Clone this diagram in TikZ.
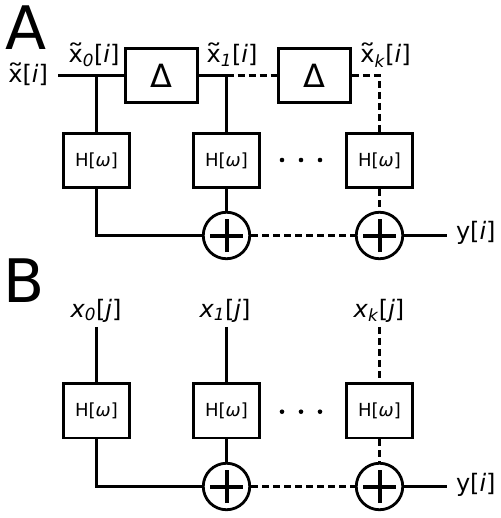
\documentclass[tikz,border=0pt]{standalone}
\usepackage{fontspec}
\usepackage{graphicx}
\setmainfont{DejaVu Sans}
\usetikzlibrary{positioning}

% wide tilde over x
\newcommand{\xtil}{{\ooalign{x\cr\hidewidth\raisebox{0.05em}{\scalebox{1.45}[1]{\char"02DC}}\hidewidth\cr}}}

\begin{document}
\begin{tikzpicture}[
  x=1pt, y=-1pt,
  line width=2.8pt,
  lab/.style={font=\fontsize{24}{28}\selectfont, inner sep=0pt},
  panel/.style={font=\fontsize{60}{64}\selectfont, inner sep=0pt, anchor=base west},
  filt/.style={draw, minimum width=65.5pt, minimum height=54.5pt, inner sep=0pt,
               font=\fontsize{18}{20}\selectfont},
  delay/.style={draw, minimum width=72pt, minimum height=54pt, inner sep=0pt,
                font=\fontsize{32}{34}\selectfont},
  sum/.style={circle, draw, minimum size=46.5pt, inner sep=0pt,
              path picture={\draw[line width=4pt]
                ([xshift=-16.5pt]path picture bounding box.center) -- ([xshift=16.5pt]path picture bounding box.center)
                ([yshift=-16.5pt]path picture bounding box.center) -- ([yshift=16.5pt]path picture bounding box.center);}},
  more/.style={dash pattern=on 7pt off 4pt}
]
\useasboundingbox (0,0) rectangle (500,518);

% --- Panel A: tapped delay line ---
\node[panel] (pa) at (4.3,50) {A};
\node[lab, anchor=base east, outer xsep=10pt] (xin) at (58,83) {\xtil[\textit{i}]};

\node[delay] (d1) at (161.5,75.5) {Δ};
\node[delay] (d2) at (314.5,75.5) {Δ};

\node[lab, anchor=base] (xa0) at (94,63) {\xtil\textsubscript{\textit{0}}[\textit{i}]};
\node[lab, anchor=base] (xa1) at (232,63) {\xtil\textsubscript{\textit{1}}[\textit{i}]};
\node[lab, anchor=base] (xak) at (385.5,63) {\xtil\textsubscript{\textit{k}}[\textit{i}]};

\node[filt] (ha0) at (96.5,160.5) {H[\textit{ω}]};
\node[filt] (ha1) at (226.5,160.5) {H[\textit{ω}]};
\node[filt] (hak) at (379.5,160.5) {H[\textit{ω}]};
\foreach \x in {282,301,320} \fill (\x,160) circle (2.3pt);

\node[sum] (sa1) at (226.5,235.5) {};
\node[sum] (sak) at (379.5,235.5) {};
\node[lab, anchor=base west, outer xsep=9pt] (ya) at (447,240) {y[\textit{i}]};

\draw (xin.east |- d1.west) -- (d1.west);
\draw (ha0.north |- d1.west) -- (ha0.north);
\draw (d1.east) -- (ha1.north |- d1.east) -- (ha1.north);
\draw[more] (ha1.north |- d1.east) -- (d2.west);
\draw[more] (d2.east) -| (hak.north);
\draw (ha0.south) |- (sa1.west);
\draw (ha1.south) -- (sa1.north);
\draw[more] (hak.south) -- (sak.north);
\draw[more] (sa1.east) -- (sak.west);
\draw (sak.east) -- (sak.east -| ya.west);

% --- Panel B: parallel inputs ---
\node[panel] (pb) at (2,302) {B};

\node[lab, anchor=base, outer ysep=5pt] (xb0) at (96,317) {\textit{x}\textsubscript{\textit{0}}[\textit{j}]};
\node[lab, anchor=base, outer ysep=5pt] (xb1) at (225,317) {\textit{x}\textsubscript{\textit{1}}[\textit{j}]};
\node[lab, anchor=base, outer ysep=5pt] (xbk) at (379,317) {\textit{x}\textsubscript{\textit{k}}[\textit{j}]};

\node[filt] (hb0) at (96.5,410.8) {H[\textit{ω}]};
\node[filt] (hb1) at (226.5,410.8) {H[\textit{ω}]};
\node[filt] (hbk) at (379.5,410.8) {H[\textit{ω}]};
\foreach \x in {282,301,320} \fill (\x,411.7) circle (2.3pt);

\node[sum] (sb1) at (226.5,486.5) {};
\node[sum] (sbk) at (379.5,486.5) {};
\node[lab, anchor=base west, outer xsep=9pt] (yb) at (447,491) {y[\textit{i}]};

\draw (hb0.north |- xb0.south) -- (hb0.north);
\draw (hb1.north |- xb1.south) -- (hb1.north);
\draw[more] (hbk.north |- xbk.south) -- (hbk.north);
\draw (hb0.south) |- (sb1.west);
\draw (hb1.south) -- (sb1.north);
\draw[more] (hbk.south) -- (sbk.north);
\draw[more] (sb1.east) -- (sbk.west);
\draw (sbk.east) -- (sbk.east -| yb.west);

\end{tikzpicture}
\end{document}
